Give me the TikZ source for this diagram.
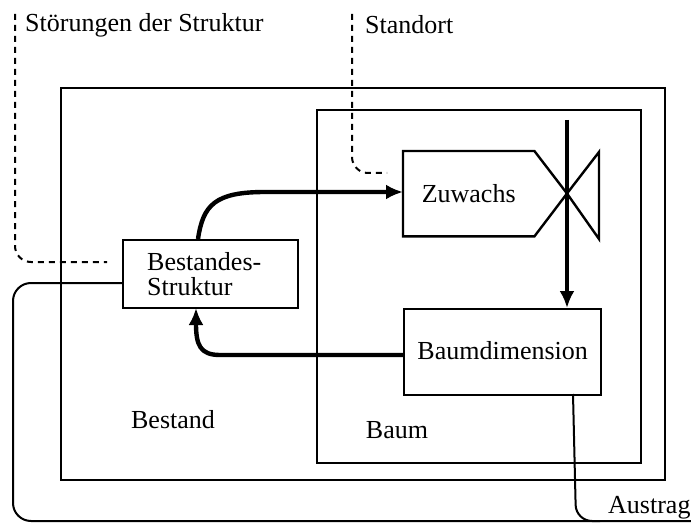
\documentclass[tikz,border=0pt]{standalone}
\usepackage{fontspec}
\setmainfont{Liberation Serif}
\usetikzlibrary{arrows.meta}
\begin{document}
\begin{tikzpicture}[x=1pt,y=-1pt,
  box/.style={draw,line width=2.4pt,inner sep=0pt,anchor=north west},
  lbl/.style={font=\fontsize{26}{25}\selectfont,inner sep=0pt},
  flow/.style={line width=4.4pt,-{Latex[length=17pt,width=15pt]}},
  thin/.style={line width=2pt},
  dashline/.style={line width=2pt,dash pattern=on 6pt off 5pt}]
\useasboundingbox (0,0) rectangle (691,524);
% containers
\node[box,minimum width=604pt,minimum height=392pt] (bestand) at (60,87) {};
\node[box,minimum width=324pt,minimum height=353pt] (baum) at (316,109) {};
% Bestandes-Struktur
\node[box,lbl,minimum width=175pt,minimum height=68pt,text width=127pt,inner xsep=24pt,align=left] (bs) at (122,239) {Bestandes-\\Struktur};
% Baumdimension
\node[box,lbl,minimum width=197pt,minimum height=86pt] (bd) at (403,308) {\raisebox{4pt}{Baumdimension}};
% Zuwachs (valve shape)
\node[lbl,minimum width=131pt,minimum height=85pt,anchor=north west,inner sep=0pt] (zw) at (403,151) {\raisebox{-5pt}{Zuwachs}};
\draw[line width=2.4pt,line join=miter] (zw.north west) -- (zw.north east) -- (567,193.5) coordinate (valve) -- (zw.south east) -- (zw.south west) -- cycle;
\draw[line width=2.4pt] (valve) -- (599,152) -- (599,239) -- cycle;
% labels
\node[lbl,anchor=west] (stoer) at (25,25) {Störungen der Struktur};
\node[lbl,anchor=west] (stand) at (365,25) {Standort};
\node[lbl] (bestandlbl) at (173,420) {Bestand};
\node[lbl] (baumlbl) at (397,430) {Baum};
\node[lbl,anchor=west] (austrag) at (608,508) {Austrag};
% dashed influences
\coordinate (d1a) at (15,14);
\coordinate (d1b) at (107,262);
\coordinate (d2a) at (352,14);
\coordinate (d2b) at (387,173);
\draw[dashline,rounded corners=16pt] (d1a) -- (15,262) -- (d1b);
\draw[dashline,rounded corners=16pt] (d2a) -- (352,173) -- (d2b);
% thick flows
\draw[flow] (bs.north west)++(76,0) .. controls (203,205) and (215,192) .. (265,192) -- (zw.west |- 0,192);
\draw[flow] (bd.west |- 0,355) -- (220,355) .. controls (200,355) and (196,345) .. (196,308);
\coordinate (vtop) at (567,120);
\draw[flow] (vtop) -- (bd.north -| vtop);
% outflow lines
\coordinate (outend) at (691,521);
\draw[thin,rounded corners=18pt] (bs.west |- 0,283) -- (13,283) -- (13,521) -- (600,521);
\draw[thin,rounded corners=16pt] (573,394) -- (576,521) -- (outend);
\end{tikzpicture}
\end{document}
